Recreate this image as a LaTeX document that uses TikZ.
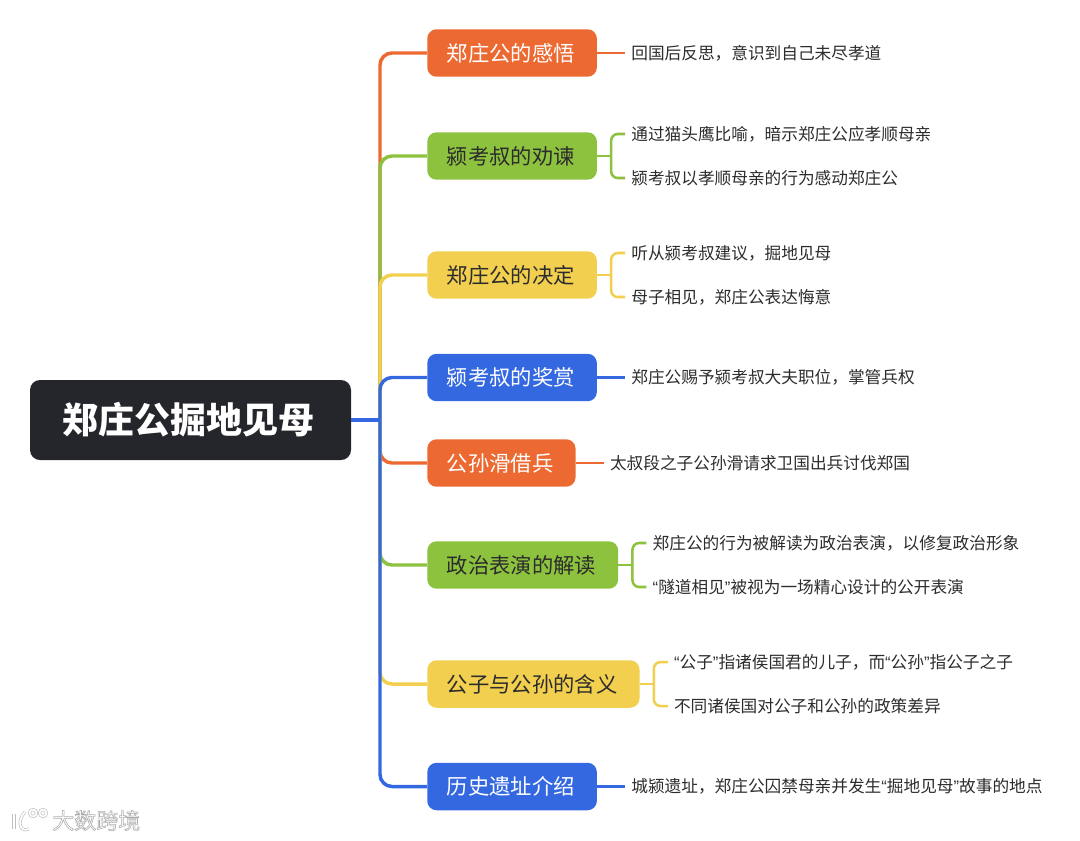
\documentclass[tikz,border=0pt]{standalone}
\usepackage{fontspec}
\setmainfont{Noto Sans CJK SC}
\newfontfamily\quotefont{Liberation Sans}
\usetikzlibrary{calc}
\definecolor{mindorange}{HTML}{EC6931}
\definecolor{mindgreen}{HTML}{8DC23F}
\definecolor{mindyellow}{HTML}{F2CF4E}
\definecolor{mindblue}{HTML}{3468E0}
\definecolor{rootdark}{HTML}{24262B}
\definecolor{leafink}{HTML}{2C2C2C}
\newcommand{\qo}{{\quotefont “}}
\newcommand{\qc}{{\quotefont ”}}
\tikzset{
  rootbox/.style={fill=rootdark,text=white,rounded corners=7.5pt,minimum width=240.75pt,minimum height=60pt,font=\fontsize{27pt}{30pt}\selectfont\bfseries},
  branchbox/.style={rounded corners=7pt,anchor=west,inner xsep=14.6pt,inner ysep=0pt,minimum height=35.6pt,font=\fontsize{16pt}{19pt}\selectfont},
  leaftext/.style={anchor=west,inner xsep=4.5pt,inner ysep=0pt,text=leafink,font=\fontsize{12.5pt}{15pt}\selectfont},
  trunkline/.style={line width=2.6pt,rounded corners=9pt},
  twigline/.style={line width=1.9pt,rounded corners=5pt},
  wmark/.style={draw=gray!50,double=white,line width=.5pt,double distance=1.3pt}
}

\begin{document}
\begin{tikzpicture}[x=0.75pt,y=-0.75pt]
  \useasboundingbox (0,0) rectangle (1080,840);
  \node[rootbox] (root) at (190.5,420) {郑庄公掘地见母\kern3pt};
  \coordinate (trunk) at (380,420);
  \foreach \name/\desc/\col/\ink/\y in {%
      ganwu/郑庄公的感悟/mindorange/white/53, quanjian/颍考叔的劝谏/mindgreen/leafink/156,
      jueding/郑庄公的决定/mindyellow/leafink/275, jiangshang/颍考叔的奖赏/mindblue/white/377.5,
      jiebing/公孙滑借兵/mindorange/white/463, biaoyan/政治表演的解读/mindgreen/leafink/565,
      hanyi/公子与公孙的含义/mindyellow/leafink/684, yizhi/历史遗址介绍/mindblue/white/786.5}{
    \node[branchbox,fill=\col,text=\ink] (\name) at (427,\y) {\desc\kern2pt};
    \draw[trunkline,\col] (trunk) |- (\name.west);
  }
  \draw[line width=2.6pt,mindblue] (root.east) -- (trunk);
  % one leaf
  \foreach \parent/\col/\desc in {%
      ganwu/mindorange/回国后反思，意识到自己未尽孝道,
      jiangshang/mindblue/郑庄公赐予颍考叔大夫职位，掌管兵权,
      jiebing/mindorange/太叔段之子公孙滑请求卫国出兵讨伐郑国,
      yizhi/mindblue/{城颍遗址，郑庄公囚禁母亲并发生\qo 掘地见母\qc 故事的地点}}{
    \node[leaftext] (\parent-leaf) at ($(\parent.east)+(28,0)$) {\desc};
    \draw[twigline,\col] (\parent.east) -- (\parent-leaf.west);
  }
  % two leaves
  \foreach \parent/\col/\upper/\lower in {%
      quanjian/mindgreen/通过猫头鹰比喻，暗示郑庄公应孝顺母亲/颍考叔以孝顺母亲的行为感动郑庄公,
      jueding/mindyellow/听从颍考叔建议，掘地见母/母子相见，郑庄公表达悔意,
      biaoyan/mindgreen/郑庄公的行为被解读为政治表演，以修复政治形象/{\qo 隧道相见\qc 被视为一场精心设计的公开表演},
      hanyi/mindyellow/{\qo 公子\qc 指诸侯国君的儿子，而\qo 公孙\qc 指公子之子}/不同诸侯国对公子和公孙的政策差异}{
    \node[leaftext] (\parent-up) at ($(\parent.east)+(28,-22)$) {\upper};
    \node[leaftext] (\parent-down) at ($(\parent.east)+(28,22)$) {\lower};
    \coordinate (\parent-fork) at ($(\parent.east)+(14,0)$);
    \draw[line width=1.9pt,\col] (\parent.east) -- (\parent-fork);
    \draw[twigline,\col] (\parent-fork) |- (\parent-up.west);
    \draw[twigline,\col] (\parent-fork) |- (\parent-down.west);
  }
  % watermark
  \draw[wmark] (14,814) -- (14,829);
  \draw[wmark] (29,829) .. controls (19,833) and (17,820) .. (25,812);
  \draw[wmark] (33,813) circle (3.5);
  \draw[wmark] (43,813) circle (3.5);
  \node[anchor=west,inner sep=0pt,text=white,font=\fontsize{16.5pt}{19pt}\selectfont] (mark) at (52,820.5) {\special{pdf:code q 2 Tr 0.45 w 0.68 G}大数跨境\special{pdf:code Q}};
\end{tikzpicture}
\end{document}
